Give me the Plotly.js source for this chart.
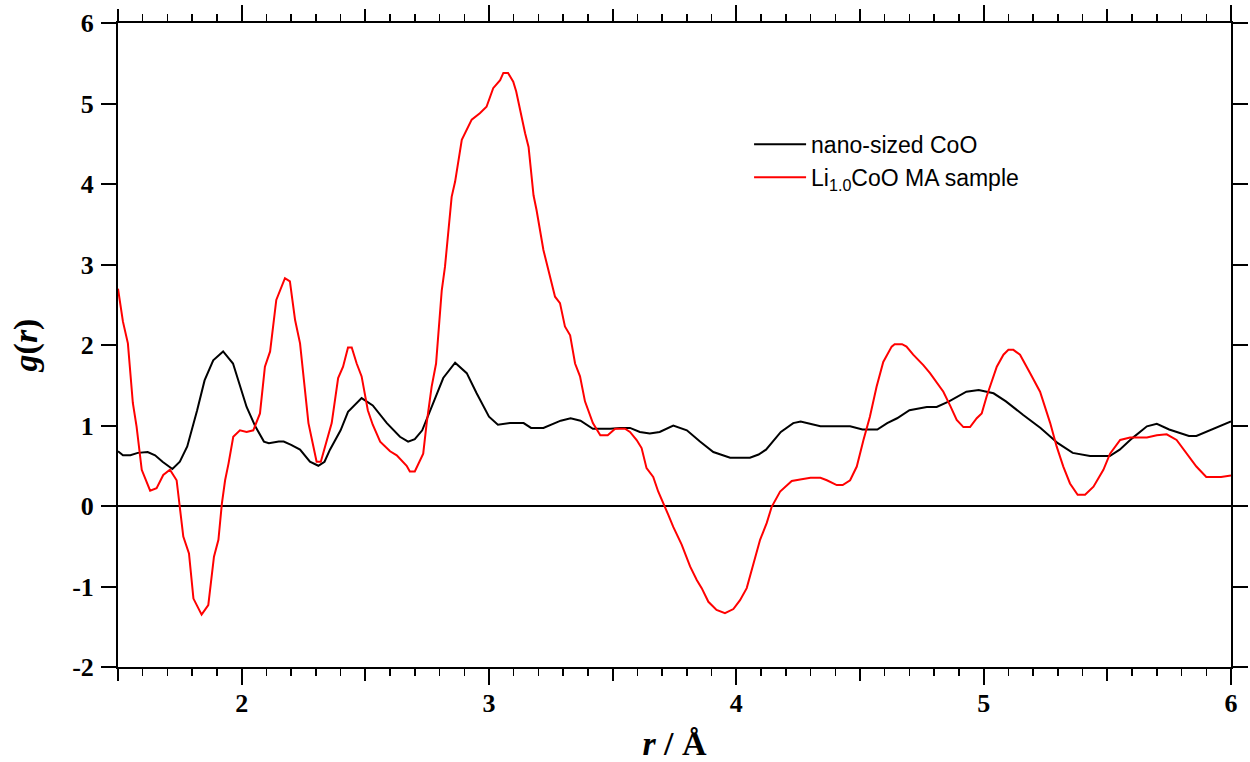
<!DOCTYPE html>
<html>
<head>
<meta charset="utf-8">
<script src="https://cdn.plot.ly/plotly-3.0.1.min.js"></script>
<style>html,body{margin:0;padding:0;background:#fff;}#chart{width:1250px;height:762px;}</style>
</head>
<body>
<div id="chart"></div>
<script>
const nanoR = [1.50,1.52,1.55,1.58,1.62,1.65,1.68,1.72,1.75,1.78,1.82,1.85,1.885,1.925,1.965,1.99,2.02,2.055,2.09,2.11,2.15,2.17,2.20,2.236,2.276,2.31,2.335,2.357,2.40,2.43,2.485,2.53,2.587,2.64,2.673,2.70,2.73,2.78,2.815,2.863,2.91,2.95,3.00,3.036,3.085,3.14,3.17,3.22,3.29,3.33,3.37,3.42,3.49,3.53,3.57,3.61,3.65,3.69,3.745,3.80,3.853,3.907,3.95,3.975,4.055,4.09,4.12,4.18,4.23,4.26,4.34,4.46,4.51,4.57,4.61,4.65,4.70,4.77,4.81,4.86,4.93,4.98,5.04,5.09,5.16,5.23,5.30,5.36,5.43,5.51,5.55,5.60,5.66,5.70,5.75,5.83,5.86,5.93,6.00];
const nanoG = [0.68,0.63,0.63,0.66,0.67,0.63,0.55,0.46,0.55,0.74,1.19,1.56,1.81,1.92,1.77,1.52,1.23,0.99,0.80,0.78,0.80,0.80,0.76,0.70,0.55,0.50,0.55,0.70,0.94,1.17,1.34,1.25,1.03,0.86,0.80,0.83,0.94,1.32,1.59,1.78,1.65,1.40,1.11,1.01,1.03,1.03,0.97,0.97,1.06,1.09,1.06,0.96,0.96,0.97,0.97,0.92,0.90,0.92,1.00,0.94,0.80,0.67,0.62,0.60,0.60,0.64,0.70,0.92,1.03,1.05,0.99,0.99,0.95,0.95,1.03,1.09,1.19,1.23,1.23,1.30,1.42,1.44,1.40,1.30,1.13,0.97,0.78,0.66,0.62,0.62,0.70,0.84,0.99,1.02,0.95,0.87,0.87,0.96,1.05];

const liR = [1.50,1.52,1.54,1.56,1.575,1.596,1.63,1.656,1.683,1.71,1.737,1.764,1.787,1.805,1.838,1.865,1.888,1.906,1.92,1.933,1.947,1.966,1.993,2.02,2.047,2.074,2.094,2.115,2.14,2.162,2.175,2.195,2.216,2.236,2.27,2.29,2.303,2.32,2.35,2.364,2.39,2.41,2.43,2.445,2.465,2.485,2.51,2.53,2.56,2.60,2.627,2.667,2.68,2.70,2.734,2.748,2.768,2.786,2.809,2.822,2.849,2.863,2.89,2.93,2.963,2.99,3.017,3.045,3.058,3.077,3.098,3.11,3.146,3.16,3.18,3.192,3.22,3.233,3.267,3.287,3.307,3.328,3.348,3.368,3.388,3.42,3.45,3.48,3.51,3.55,3.57,3.597,3.617,3.637,3.664,3.684,3.71,3.725,3.745,3.779,3.813,3.84,3.86,3.887,3.92,3.954,3.988,4.015,4.042,4.069,4.096,4.123,4.143,4.177,4.224,4.258,4.30,4.34,4.366,4.406,4.43,4.46,4.487,4.514,4.54,4.567,4.594,4.628,4.64,4.67,4.688,4.715,4.756,4.783,4.81,4.837,4.864,4.891,4.918,4.945,4.972,4.992,5.012,5.033,5.053,5.08,5.10,5.12,5.147,5.188,5.228,5.269,5.295,5.322,5.349,5.38,5.41,5.444,5.484,5.511,5.552,5.592,5.66,5.70,5.74,5.78,5.82,5.86,5.90,5.96,6.00];
const liG = [2.70,2.29,2.02,1.28,0.99,0.45,0.19,0.22,0.385,0.45,0.32,-0.38,-0.59,-1.15,-1.35,-1.23,-0.63,-0.42,0.03,0.32,0.53,0.86,0.94,0.92,0.94,1.15,1.73,1.92,2.56,2.72,2.83,2.79,2.31,2.02,1.03,0.74,0.55,0.55,0.90,1.03,1.59,1.73,1.97,1.97,1.77,1.61,1.19,1.01,0.80,0.68,0.63,0.50,0.43,0.43,0.65,1.03,1.48,1.77,2.68,2.97,3.84,4.03,4.55,4.80,4.88,4.96,5.19,5.29,5.38,5.38,5.27,5.15,4.63,4.46,3.86,3.68,3.18,3.01,2.60,2.52,2.23,2.12,1.77,1.61,1.30,1.03,0.88,0.88,0.96,0.96,0.92,0.82,0.72,0.47,0.36,0.18,0.01,-0.11,-0.26,-0.48,-0.75,-0.92,-1.02,-1.19,-1.29,-1.33,-1.28,-1.17,-1.02,-0.73,-0.42,-0.21,-0.01,0.18,0.31,0.33,0.35,0.35,0.32,0.26,0.26,0.32,0.49,0.82,1.11,1.48,1.79,1.98,2.01,2.01,1.98,1.88,1.75,1.65,1.54,1.42,1.25,1.07,0.98,0.98,1.09,1.15,1.36,1.54,1.73,1.88,1.94,1.94,1.88,1.65,1.42,1.03,0.74,0.49,0.28,0.14,0.14,0.24,0.45,0.65,0.82,0.85,0.85,0.88,0.89,0.82,0.65,0.49,0.36,0.36,0.38];

const seriesNames = ['nano-sized CoO', 'Li<sub>1.0</sub>CoO MA sample'];
const xTickVals = [1.5,2,2.5,3,3.5,4,4.5,5,5.5,6];
const xTickText = ['','2','','3','','4','','5','','6'];
const yTickVals = [-2,-1,0,1,2,3,4,5,6];
const yTickText = ['-2','-1','0','1','2','3','4','5','6'];

const serif = 'Liberation Serif, Times New Roman, serif';
const sans = 'Liberation Sans, Arial, sans-serif';

const traces = [
  {x: nanoR, y: nanoG, type: 'scatter', mode: 'lines', name: seriesNames[0],
   line: {color: '#000000', width: 2}},
  {x: liR, y: liG, type: 'scatter', mode: 'lines', name: seriesNames[1],
   line: {color: '#ff0000', width: 2}},
  {x: [null], y: [null], xaxis: 'x2', type: 'scatter', mode: 'lines', showlegend: false, hoverinfo: 'skip'}
];

const layout = {
  width: 1250, height: 762,
  margin: {l: 118, r: 19, t: 23, b: 95},
  paper_bgcolor: '#ffffff', plot_bgcolor: '#ffffff',
  showlegend: true,
  legend: {x: 0.567, y: 0.845, xanchor: 'left', yanchor: 'top',
           font: {family: sans, size: 23, color: '#000'}, bgcolor: 'rgba(0,0,0,0)',
           itemwidth: 52, tracegroupgap: 0},
  xaxis: {
    range: [1.5, 6], showgrid: false, zeroline: false,
    showline: true, linecolor: '#000', linewidth: 2, mirror: 'ticks',
    ticks: 'outside', tickmode: 'array', tickvals: xTickVals, ticktext: xTickText,
    ticklen: 12, tickwidth: 2, tickcolor: '#000',
    minor: {dtick: 0.1, ticks: 'outside', ticklen: 7, tickwidth: 1.5, tickcolor: '#000', showgrid: false},
    tickfont: {family: serif, size: 26, color: '#000', weight: 'bold'},
    title: {text: '<b><i>r</i> / Å</b>', font: {family: serif, size: 34, color: '#000'}, standoff: 14}
  },
  xaxis2: {
    overlaying: 'x', anchor: 'y', side: 'bottom', range: [1.5, 6],
    showgrid: false, zeroline: false, showline: false, mirror: 'ticks',
    ticks: 'outside', tickmode: 'array', tickvals: [2,3,4,5,6], ticktext: ['','','','',''],
    ticklen: 17, tickwidth: 2, tickcolor: '#000', showticklabels: false
  },
  yaxis: {
    range: [-2, 6], showgrid: false,
    zeroline: true, zerolinecolor: '#000', zerolinewidth: 2,
    showline: true, linecolor: '#000', linewidth: 2, mirror: 'ticks',
    ticks: 'outside', tickmode: 'array', tickvals: yTickVals, ticktext: yTickText,
    ticklen: 15, tickwidth: 2, tickcolor: '#000',
    tickfont: {family: serif, size: 26, color: '#000', weight: 'bold'},
    ticklabelstandoff: 2,
    title: {text: '<b><i>g</i>(<i>r</i>)</b>', font: {family: serif, size: 34, color: '#000'}, standoff: 24}
  }
};

Plotly.newPlot('chart', traces, layout, {displayModeBar: false, staticPlot: true});
</script>
</body>
</html>
